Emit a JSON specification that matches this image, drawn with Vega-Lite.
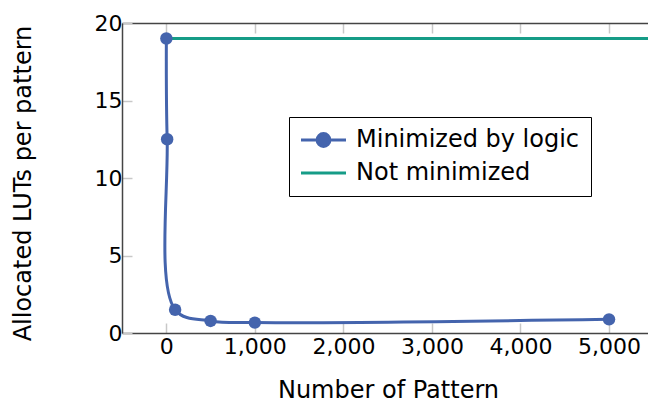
{
  "$schema": "https://vega.github.io/schema/vega-lite/v6.json",
  "autosize": {"type": "none"},
  "padding": {"left": 122, "top": 23, "right": 0, "bottom": 72},
  "width": 526,
  "height": 310,
  "background": "white",
  "config": {
    "font": "DejaVu Sans",
    "view": {"stroke": null},
    "axis": {
      "grid": false,
      "domainColor": "#444444",
      "domainWidth": 1.5,
      "tickColor": "#c8c8c8",
      "tickWidth": 1.5,
      "tickSize": -10,
      "labelFont": "DejaVu Sans",
      "labelFontSize": 22,
      "labelColor": "black",
      "titleFont": "DejaVu Sans",
      "titleFontSize": 24,
      "titleFontWeight": "normal",
      "titleColor": "black"
    }
  },
  "data": {
    "values": [
      {"n": 1, "luts": 19, "series": "Minimized by logic"},
      {"n": 10, "luts": 12.5, "series": "Minimized by logic"},
      {"n": 100, "luts": 1.5, "series": "Minimized by logic"},
      {"n": 500, "luts": 0.78, "series": "Minimized by logic"},
      {"n": 1000, "luts": 0.67, "series": "Minimized by logic"},
      {"n": 5000, "luts": 0.88, "series": "Minimized by logic"},
      {"n": 1, "luts": 19, "series": "Not minimized"},
      {"n": 6000, "luts": 19, "series": "Not minimized"}
    ]
  },
  "resolve": {"axis": {"x": "independent"}},
  "layer": [
    {
      "transform": [{"filter": "datum.series === 'Not minimized'"}],
      "mark": {"type": "line", "strokeWidth": 3, "clip": true},
      "encoding": {
        "x": {
          "field": "n", "type": "quantitative",
          "scale": {"domain": [-500, 5440], "nice": false, "zero": false},
          "axis": {"orient": "top", "labels": false, "title": null, "values": [0, 1000, 2000, 3000, 4000, 5000]}
        },
        "y": {
          "field": "luts", "type": "quantitative",
          "scale": {"domain": [0, 20], "nice": false},
          "axis": {"values": [0, 5, 10, 15, 20], "title": "Allocated LUTs per pattern", "labelPadding": 10, "titleX": -92, "titleY": 160, "titleBaseline": "alphabetic"}
        },
        "color": {
          "field": "series", "type": "nominal",
          "scale": {"domain": ["Minimized by logic", "Not minimized"], "range": ["#4464ad", "#169c87"]},
          "legend": {
            "orient": "none", "legendX": 167, "legendY": 94,
            "title": null,
            "strokeColor": "black", "fillColor": "white",
            "padding": 11,
            "labelFont": "DejaVu Sans",
            "labelFontSize": 24,
            "labelColor": "black",
            "labelLimit": 0,
            "labelOffset": 32,
            "rowPadding": 8,
            "symbolSize": 400,
            "symbolStrokeWidth": 2.8,
            "encode": {
              "symbols": {
                "update": {
                  "shape": {"signal": "datum.label === 'Not minimized' ? 'M-1.1,0L3.4,0' : 'M-1.1,0L3.4,0M0.5,0A0.65,0.65,0,1,1,1.8,0A0.65,0.65,0,1,1,0.5,0Z'"},
                  "stroke": {"signal": "datum.label === 'Not minimized' ? '#169c87' : '#4464ad'"},
                  "fill": {"signal": "datum.label === 'Not minimized' ? 'transparent' : '#4464ad'"},
                  "strokeWidth": {"value": 2.8},
                  "opacity": {"value": 1}
                }
              }
            }
          }
        }
      }
    },
    {
      "transform": [{"filter": "datum.series === 'Minimized by logic'"}],
      "mark": {"type": "line", "strokeWidth": 3, "interpolate": "catmull-rom", "clip": true},
      "encoding": {
        "x": {
          "field": "n", "type": "quantitative",
          "axis": {"orient": "bottom", "values": [0, 1000, 2000, 3000, 4000, 5000], "labelExpr": "format(datum.value, ',')", "labelPadding": 13, "title": "Number of Pattern", "titleX": 266, "titleY": 64, "titleBaseline": "alphabetic"}
        },
        "y": {"field": "luts", "type": "quantitative"},
        "color": {"field": "series", "type": "nominal"}
      }
    },
    {
      "transform": [{"filter": "datum.series === 'Minimized by logic'"}],
      "mark": {"type": "circle", "size": 155, "opacity": 1},
      "encoding": {
        "x": {"field": "n", "type": "quantitative", "axis": null},
        "y": {"field": "luts", "type": "quantitative"},
        "color": {"field": "series", "type": "nominal"}
      }
    }
  ]
}
